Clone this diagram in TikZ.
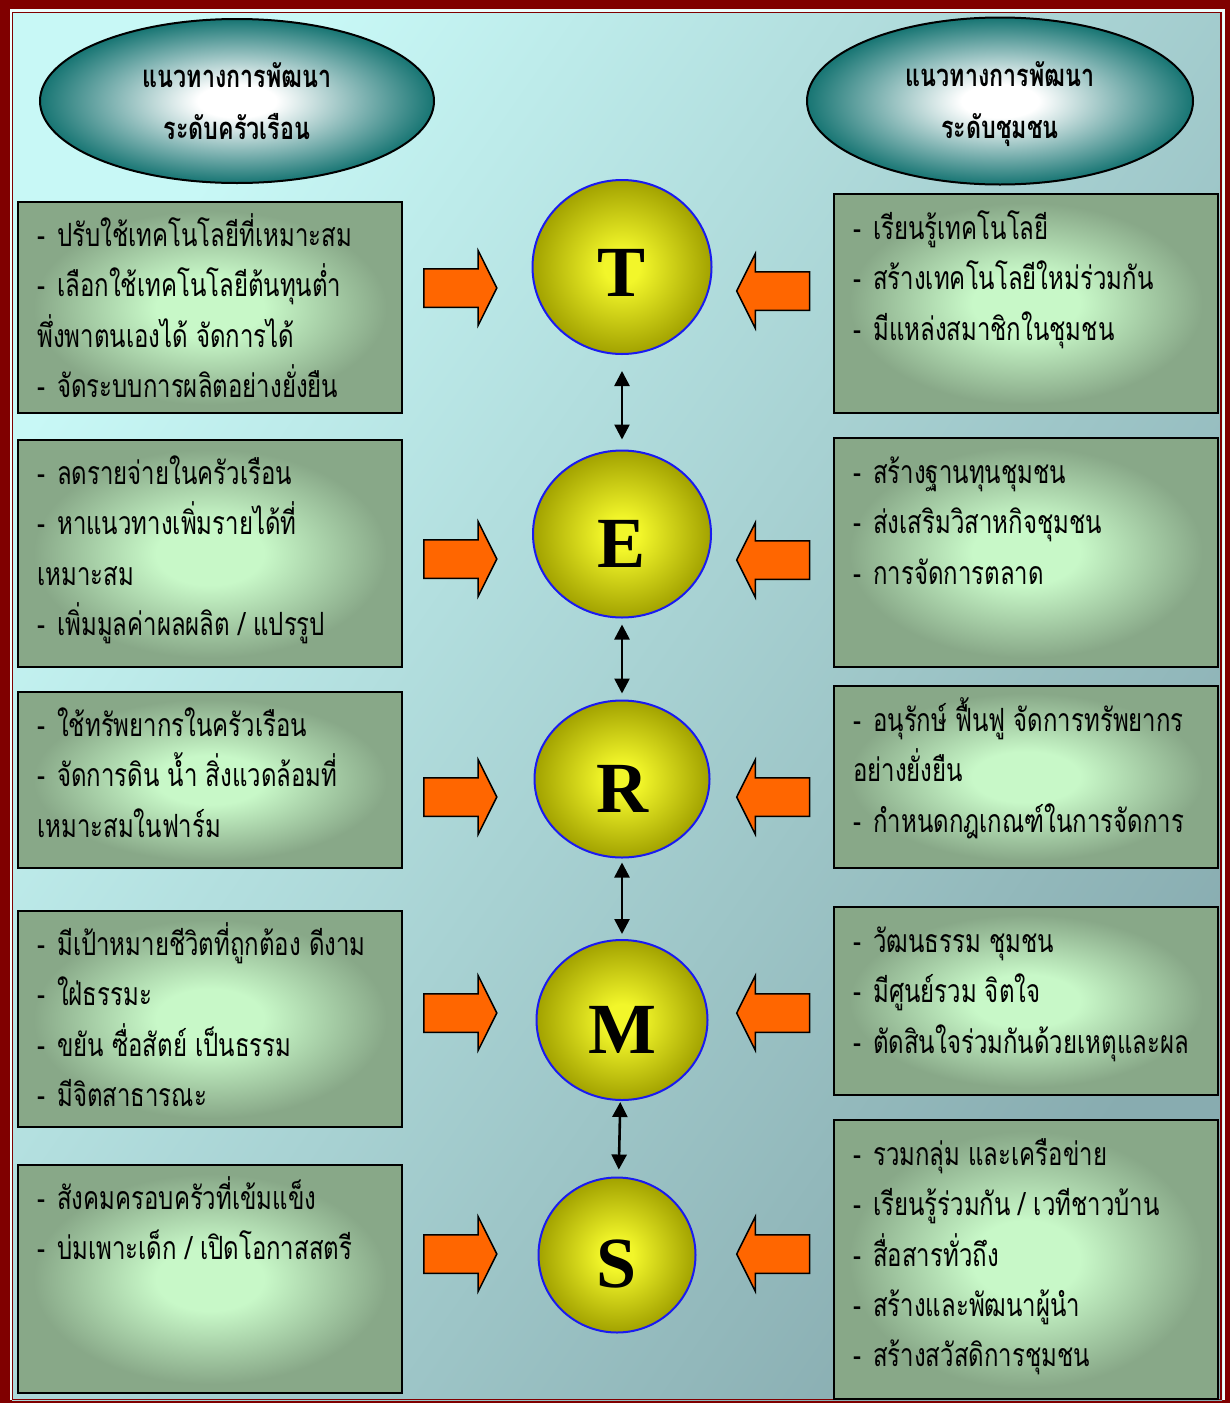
\documentclass[tikz,border=0pt]{standalone}
\usepackage{fontspec}
\usetikzlibrary{shapes.geometric, shapes.arrows, arrows.meta}
\newfontfamily\thai[Script=Thai, FakeStretch=0.75]{Loma}
\newfontfamily\capfont{Liberation Serif}

\definecolor{framered}{HTML}{800000}
\definecolor{bgtop}{HTML}{C8F8F6}
\definecolor{bgbot}{HTML}{88ACB0}
\definecolor{boxin}{HTML}{C8F8C8}
\definecolor{boxout}{HTML}{88A888}
\definecolor{ellteal}{HTML}{177573}
\definecolor{ylw}{HTML}{F2F62A}
\definecolor{olive}{HTML}{A2A200}
\definecolor{ringblue}{HTML}{1A1AF0}
\definecolor{pushorange}{HTML}{FF6600}

\pgfdeclareradialshading{boxshade}{\pgfpoint{0bp}{0bp}}{color(0bp)=(boxin); color(7bp)=(boxin); color(23bp)=(boxout); color(50bp)=(boxout)}
\pgfdeclareradialshading{ovalshade}{\pgfpoint{0bp}{0bp}}{color(0bp)=(white); color(5bp)=(white); color(25bp)=(ellteal); color(50bp)=(ellteal)}
\pgfdeclareradialshading{ballshade}{\pgfpoint{0bp}{0bp}}{color(0bp)=(ylw); color(5bp)=(ylw); color(25bp)=(olive); color(50bp)=(olive)}

\newcommand{\bul}{-\hspace{12pt}}

\begin{document}
\begin{tikzpicture}[x=1pt, y=-1pt,
    item/.style={draw=black, line width=2pt, shade, shading=boxshade, minimum width=384pt, inner sep=0pt, anchor=north west},
    lines/.style={anchor=north west, inner sep=0pt, align=left, font=\thai\fontsize{32}{50.3}\selectfont},
    head/.style={ellipse, draw=black, line width=2pt, shade, shading=ovalshade, align=center, font=\thai\bfseries\fontsize{31}{52}\selectfont},
    ball/.style={ellipse, draw=ringblue, line width=2pt, shade, shading=ballshade, inner sep=0pt, text height=66pt, font=\capfont\bfseries\fontsize{72}{72}\selectfont},
    push/.style={single arrow, draw=black, line width=1.5pt, fill=pushorange, minimum width=73pt, minimum height=73pt, single arrow head extend=18pt, single arrow tip angle=127, inner xsep=0pt, inner ysep=18.5pt},
    link/.style={<->, >={Triangle[length=15pt, width=15pt]}, line width=2.6pt}]
    \useasboundingbox (0,0) rectangle (1230,1403);

    % frame and background
    \fill[framered] (0,0) rectangle (1230,1403);
    \fill[white!70!bgtop] (10,9) rectangle (1225,1400);
    \shade[top color=bgtop, bottom color=bgbot, shading angle=55] (12,12) rectangle (1222,1400);
    \draw[framered, line width=1.5pt] (12.5,12.5) rectangle (1221,1399.5);

    % headings
    \node[head, minimum width=394pt, minimum height=164pt] (hh) at (237,101) {แนวทางการพัฒนา\\ระดับครัวเรือน};
    \node[head, minimum width=386pt, minimum height=167pt] (hc) at (1000,101) {\raisebox{0pt}[\dimexpr\height+7pt]{แนวทางการพัฒนา}\\ระดับชุมชน};

    % household boxes
    \node[item, minimum height=211pt] (l1) at (17,201) {};
    \node[item, minimum height=227pt] (l2) at (17,439) {};
    \node[item, minimum height=176pt] (l3) at (17,691) {};
    \node[item, minimum height=216pt] (l4) at (17,910) {};
    \node[item, minimum height=228pt] (l5) at (17,1164) {};
    \node[lines] (l1t) at ([shift={(20,10)}]l1.north west) {\strut\bul ปรับใช้เทคโนโลยีที่เหมาะสม\\\bul เลือกใช้เทคโนโลยีต้นทุนต่ำ\\พึ่งพาตนเองได้ จัดการได้\\\bul จัดระบบการผลิตอย่างยั่งยืน};
    \node[lines] (l2t) at ([shift={(20,10)}]l2.north west) {\strut\bul ลดรายจ่ายในครัวเรือน\\\bul หาแนวทางเพิ่มรายได้ที่\\เหมาะสม\\\bul เพิ่มมูลค่าผลผลิต / แปรรูป};
    \node[lines] (l3t) at ([shift={(20,10)}]l3.north west) {\strut\bul ใช้ทรัพยากรในครัวเรือน\\\bul จัดการดิน น้ำ สิ่งแวดล้อมที่\\เหมาะสมในฟาร์ม};
    \node[lines] (l4t) at ([shift={(20,10)}]l4.north west) {\strut\bul มีเป้าหมายชีวิตที่ถูกต้อง ดีงาม\\\bul ใฝ่ธรรมะ\\\bul ขยัน ซื่อสัตย์ เป็นธรรม\\\bul มีจิตสาธารณะ};
    \node[lines] (l5t) at ([shift={(20,10)}]l5.north west) {\strut\bul สังคมครอบครัวที่เข้มแข็ง\\\bul บ่มเพาะเด็ก / เปิดโอกาสสตรี};

    % community boxes
    \node[item, minimum height=219pt] (r1) at (833,193) {};
    \node[item, minimum height=229pt] (r2) at (833,437) {};
    \node[item, minimum height=182pt] (r3) at (833,685) {};
    \node[item, minimum height=188pt] (r4) at (833,906) {};
    \node[item, minimum height=279pt] (r5) at (833,1119) {};
    \node[lines] (r1t) at ([shift={(20,11)}]r1.north west) {\strut\bul เรียนรู้เทคโนโลยี\\\bul สร้างเทคโนโลยีใหม่ร่วมกัน\\\bul มีแหล่งสมาชิกในชุมชน};
    \node[lines] (r2t) at ([shift={(20,11)}]r2.north west) {\strut\bul สร้างฐานทุนชุมชน\\\bul ส่งเสริมวิสาหกิจชุมชน\\\bul การจัดการตลาด};
    \node[lines] (r3t) at ([shift={(20,11)}]r3.north west) {\strut\bul อนุรักษ์ ฟื้นฟู จัดการทรัพยากร\\อย่างยั่งยืน\\\bul กำหนดกฎเกณฑ์ในการจัดการ};
    \node[lines] (r4t) at ([shift={(20,11)}]r4.north west) {\strut\bul วัฒนธรรม ชุมชน\\\bul มีศูนย์รวม จิตใจ\\\bul ตัดสินใจร่วมกันด้วยเหตุและผล};
    \node[lines] (r5t) at ([shift={(20,11)}]r5.north west) {\strut\bul รวมกลุ่ม และเครือข่าย\\\bul เรียนรู้ร่วมกัน / เวทีชาวบ้าน\\\bul สื่อสารทั่วถึง\\\bul สร้างและพัฒนาผู้นำ\\\bul สร้างสวัสดิการชุมชน};

    % TERMS circles
    \node[ball, minimum width=179pt, minimum height=174pt, text height=58pt] (T) at (622,267) {T};
    \node[ball, minimum width=178pt, minimum height=167pt] (E) at (622,534) {E};
    \node[ball, minimum width=175pt, minimum height=157pt] (R) at (622,779) {R};
    \node[ball, minimum width=171pt, minimum height=160pt] (M) at (622,1020) {M};
    \node[ball, minimum width=157pt, minimum height=155pt] (S) at (617,1255) {S};

    % arrows from both sides
    \node[push] (lT) at (455.5,288) {};
    \node[push] (lE) at (455.5,559) {};
    \node[push] (lR) at (455.5,797) {};
    \node[push] (lM) at (455.5,1013) {};
    \node[push] (lS) at (455.5,1254) {};
    \node[push, shape border rotate=180] (rT) at (778,291) {};
    \node[push, shape border rotate=180] (rE) at (778,560) {};
    \node[push, shape border rotate=180] (rR) at (778,797) {};
    \node[push, shape border rotate=180] (rM) at (778,1013) {};
    \node[push, shape border rotate=180] (rS) at (778,1254) {};

    % links between circles
    \draw[link, shorten <=16pt, shorten >=10pt] (T) -- (E);
    \draw[link, shorten <=6pt, shorten >=6pt] (E) -- (R);
    \draw[link, shorten <=4pt, shorten >=5pt] (R) -- (M);
    \draw[link, shorten <=1pt, shorten >=7pt] (M) -- (S);
\end{tikzpicture}
\end{document}
